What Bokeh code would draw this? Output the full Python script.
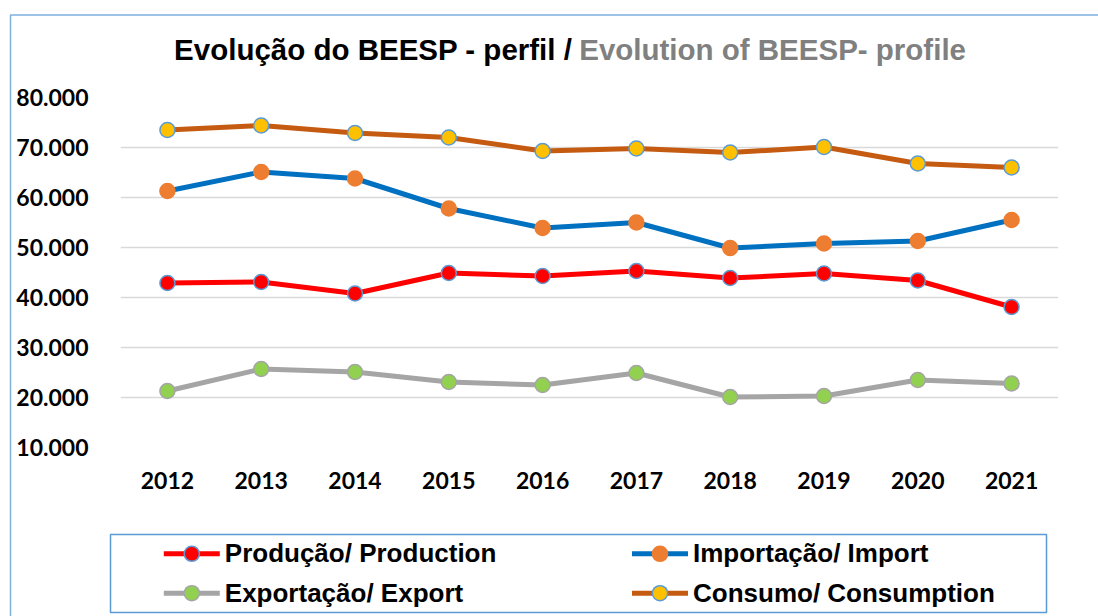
from bokeh.plotting import figure
from bokeh.models import FactorRange, Range1d, FixedTicker
from bokeh.core.properties import value
from bokeh.embed import file_html
from bokeh.resources import INLINE

# ---- data ----
years = ["2012", "2013", "2014", "2015", "2016", "2017", "2018", "2019", "2020", "2021"]
producao = [42900, 43100, 40800, 44900, 44300, 45300, 43900, 44800, 43400, 38100]
importacao = [61300, 65100, 63800, 57800, 53900, 55000, 49900, 50800, 51300, 55500]
exportacao = [21300, 25700, 25100, 23100, 22500, 24900, 20100, 20300, 23500, 22800]
consumo = [73500, 74400, 72900, 72000, 69300, 69800, 69000, 70100, 66800, 66000]
y_ticks = [10000, 20000, 30000, 40000, 50000, 60000, 70000, 80000]
y_tick_labels = ["10.000", "20.000", "30.000", "40.000", "50.000", "60.000", "70.000", "80.000"]
series_names = ["Produção/ Production", "Importação/ Import",
                "Exportação/ Export", "Consumo/ Consumption"]
title_pt = "Evolução do BEESP - perfil /"
title_en = "Evolution of BEESP- profile"

W, H = 1098, 616
FL, FT, FW, FH = 120, 97, 938, 350  # frame placement in canvas px


def cx(px):
    """canvas x pixel -> synthetic categorical coordinate"""
    return (px - FL) / (FW / len(years))


p = figure(x_range=FactorRange(*years, range_padding=0), y_range=Range1d(10000, 80000),
           frame_width=FW, frame_height=FH,
           min_border_left=FL, min_border_top=FT, min_border_right=W - FL - FW,
           min_border_bottom=H - FT - FH,
           output_backend="svg", toolbar_location=None, background_fill_color="white",
           border_fill_color="white")
# pixel-coordinate y range for page decorations (title, legend, frames)
p.extra_y_ranges = {"cy": Range1d(FT + FH, FT)}

p.outline_line_color = None
p.xgrid.grid_line_color = None
p.ygrid.grid_line_color = "#D9D9D9"
p.ygrid.grid_line_width = 1.3

p.yaxis.ticker = FixedTicker(ticks=y_ticks)
p.yaxis.major_label_overrides = {t: s for t, s in zip(y_ticks, y_tick_labels)}
for ax in (p.xaxis[0], p.yaxis[0]):
    ax.axis_line_color = None
    ax.major_tick_line_color = None
    ax.minor_tick_line_color = None
    ax.major_tick_out = 0
    ax.major_tick_in = 0
    ax.major_label_text_font = "Lato"
    ax.major_label_text_font_style = "bold"
    ax.major_label_text_font_size = "23px"
    ax.major_label_text_color = "black"
p.yaxis.major_label_standoff = 32
p.xaxis.major_label_standoff = 24

styles = [
    (producao, "#FF0000", "#FF0000", "#5B9BD5"),
    (importacao, "#0070C0", "#ED7D31", "#ED7D31"),
    (exportacao, "#A5A5A5", "#92D050", "#A5A5A5"),
    (consumo, "#C55A11", "#FFC000", "#5B9BD5"),
]
# legend slots: (glyph left px, row centre px) for each series
legend_slots = [(163.3, 553.3), (631.5, 553.3), (163.3, 592.7), (631.5, 592.7)]

for (vals, lc, fc, oc), name, (gx, gy) in zip(styles, series_names, legend_slots):
    p.line(years, vals, line_color=lc, line_width=5, line_join="round")
    p.scatter(years, vals, size=15, fill_color=fc, line_color=oc, line_width=1.5)
    # legend entry: line, round marker (outline + fill dots), label
    p.segment(x0=[cx(gx)], y0=[gy], x1=[cx(gx + 56)], y1=[gy], y_range_name="cy",
              line_color=lc, line_width=5, level="overlay")
    p.segment(x0=[cx(gx + 27.9)], y0=[gy], x1=[cx(gx + 28.1)], y1=[gy], y_range_name="cy",
              line_color=oc, line_width=16.5, line_cap="round", level="overlay")
    p.segment(x0=[cx(gx + 27.9)], y0=[gy], x1=[cx(gx + 28.1)], y1=[gy], y_range_name="cy",
              line_color=fc, line_width=13.5, line_cap="round", level="overlay")
    p.text(x=[cx(gx + 61)], y=[gy - 0.7], text=[name], y_range_name="cy",
           text_font=value("Liberation Sans"), text_font_style="bold",
           text_font_size="26px", text_color="black", text_baseline="alphabetic",
           text_align="left", level="overlay")

# chart-area border and legend box (page decorations, pixel coordinates)
p.line(x=[cx(10), cx(10), cx(1200)], y=[800, 14.5, 14.5], y_range_name="cy",
       line_color="#7EB0E0", line_width=1.5, level="overlay")
p.quad(left=[cx(110)], right=[cx(1046)], top=[534], bottom=[612],
       y_range_name="cy", fill_color=None, line_color="#5B9BD5", line_width=1.5,
       level="overlay")

# two-colour title
p.text(x=[cx(173.6)], y=[49], text=[title_pt], y_range_name="cy",
       text_font=value("Liberation Sans"), text_font_style="bold", text_font_size="29.5px",
       text_color="black", text_baseline="alphabetic", text_align="left", level="overlay")
p.text(x=[cx(578.7)], y=[49], text=[title_en], y_range_name="cy",
       text_font=value("Liberation Sans"), text_font_style="bold", text_font_size="29.5px",
       text_color="#808080", text_baseline="alphabetic", text_align="left", level="overlay")

open("out.html", "w").write(file_html(p, INLINE))
